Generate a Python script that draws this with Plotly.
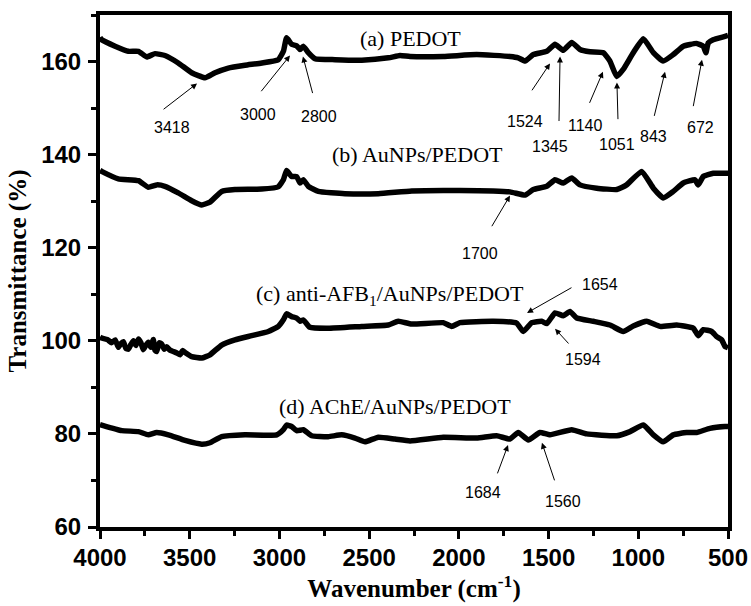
import plotly.graph_objects as go

# ---- data ----
wn_a = [4000, 3991, 3916, 3842, 3786, 3740, 3693, 3638, 3564, 3489, 3415, 3359, 3285, 3192, 3099, 3006,
        2978, 2960, 2932, 2904, 2885, 2867, 2839, 2802, 2690, 2541, 2393, 2328, 2272, 2087, 1901, 1715,
        1669, 1631, 1585, 1510, 1464, 1418, 1371, 1325, 1269, 1195, 1158, 1120, 1084, 1028, 972, 916,
        861, 805, 749, 675, 638, 623, 610, 583, 517, 500]
t_a = [165.2, 164.7, 163.3, 162.2, 162.2, 161.0, 161.7, 161.3, 159.7, 157.6, 156.5, 157.6, 158.6, 159.2, 159.7, 160.4,
       162.2, 165.1, 163.7, 163.4, 162.6, 163.3, 161.9, 160.6, 160.4, 160.3, 160.8, 161.3, 161.1, 161.1, 161.5, 161.1,
       160.8, 160.1, 161.5, 162.2, 163.7, 162.4, 164.1, 162.6, 162.1, 161.9, 160.1, 156.8, 158.3, 161.9, 164.9, 161.9,
       160.1, 161.5, 163.3, 163.9, 163.3, 161.9, 164.0, 164.7, 165.4, 165.6]

wn_b = [4000, 3991, 3898, 3786, 3731, 3684, 3638, 3564, 3489, 3433, 3387, 3322, 3248, 3099, 3006, 2978,
        2960, 2932, 2904, 2885, 2867, 2839, 2783, 2635, 2449, 2263, 1994, 1715, 1631, 1585, 1510, 1464,
        1418, 1371, 1325, 1232, 1120, 1065, 981, 916, 861, 805, 749, 684, 666, 638, 582, 517, 500]
t_b = [136.6, 136.4, 134.8, 134.4, 133.0, 133.5, 133.2, 131.8, 130.1, 129.2, 129.8, 132.1, 132.5, 132.6, 133.1, 134.6,
       136.6, 135.3, 135.3, 133.9, 134.6, 133.2, 132.1, 131.6, 131.6, 132.2, 132.3, 132.0, 131.3, 132.5, 133.2, 134.6,
       133.9, 135.0, 133.5, 132.8, 132.5, 133.5, 136.4, 132.8, 130.7, 132.1, 133.9, 134.6, 133.5, 135.3, 136.0, 136.0, 136.0]

wn_c = [4000, 3991, 3960, 3935, 3915, 3898, 3884, 3870, 3856, 3842, 3828, 3814, 3800, 3786, 3772, 3759,
        3745, 3731, 3717, 3703, 3694, 3684, 3670, 3656, 3642, 3628, 3610, 3591, 3572, 3554, 3540,
        3526, 3489, 3433, 3387, 3322, 3248, 3155, 3062, 3006, 2978, 2960, 2932, 2904, 2885, 2867, 2830,
        2728, 2541, 2393, 2338, 2263, 2087, 2040, 1994, 1808, 1678, 1641, 1594, 1538, 1510, 1464, 1418,
        1381, 1343, 1251, 1158, 1084, 1028, 953, 879, 786, 693, 666, 638, 591, 563, 535, 517, 500]
t_c = [100.8, 100.6, 100.3, 99.6, 100.2, 98.6, 99.4, 99.8, 98.4, 98.2, 99.2, 100.0, 99.0, 100.4, 99.6, 98.1,
       99.0, 99.7, 98.6, 100.3, 98.0, 97.7, 99.6, 99.3, 98.2, 98.7, 98.0, 97.7, 97.4, 97.0, 97.9,
       97.5, 96.6, 96.3, 97.0, 99.1, 100.2, 101.1, 102.0, 103.1, 104.5, 105.8, 105.2, 104.9, 104.2, 104.5, 102.9,
       102.7, 103.1, 103.4, 104.2, 103.6, 103.9, 103.1, 103.9, 104.2, 103.8, 102.0, 103.9, 104.2, 103.7, 106.0, 105.4,
       106.3, 104.9, 104.2, 103.4, 102.0, 103.2, 104.2, 103.1, 103.4, 102.7, 101.1, 102.4, 102.0, 100.9, 100.2, 98.8, 98.5]

wn_d = [4000, 3991, 3879, 3786, 3731, 3684, 3619, 3526, 3433, 3387, 3322, 3192, 3015, 2978, 2960, 2932,
        2904, 2867, 2820, 2728, 2653, 2579, 2523, 2449, 2356, 2272, 2087, 1901, 1789, 1715, 1669, 1613,
        1548, 1492, 1371, 1288, 1120, 1046, 972, 916, 861, 805, 731, 675, 601, 517, 500]
t_d = [82.0, 81.9, 80.7, 80.5, 79.8, 80.3, 79.8, 78.6, 77.8, 78.1, 79.4, 79.8, 79.8, 80.9, 81.9, 81.6,
       80.7, 80.9, 79.6, 79.4, 79.8, 79.1, 78.3, 79.3, 78.9, 78.5, 79.3, 79.1, 79.6, 78.9, 80.3, 78.7,
       80.3, 79.8, 80.9, 80.0, 79.6, 80.5, 81.9, 79.8, 78.3, 79.8, 80.3, 80.3, 81.2, 81.6, 81.6]

series_labels = ["(a) PEDOT", "(b) AuNPs/PEDOT", "(c) anti-AFB<sub>1</sub>/AuNPs/PEDOT", "(d) AChE/AuNPs/PEDOT"]
series_label_pos = [(2272, 165.0), (2228, 140.0), (2384, 109.8), (2356, 85.8)]

# peak labels: text, label position, arrow tail, arrow head
peak_text = ["3418", "3000", "2800", "1524", "1345", "1140", "1051", "843", "672",
             "1700", "1654", "1594", "1684", "1560"]
peak_label = [(3599, 145.8), (3119, 148.6), (2780, 148.2), (1631, 147.1), (1492, 141.7), (1297, 146.2),
              (1119, 142.1), (918, 143.9), (651, 145.8), (1882, 118.7), (1214, 112.0), (1308, 95.9),
              (1866, 67.5), (1420, 65.4)]
peak_tail = [(3654, 149.5), (3108, 153.3), (2813, 152.9), (1598, 153.5), (1442, 146.9), (1275, 150.8),
             (1113, 147.3), (913, 148.0), (695, 150.1), (1821, 124.3), (1364, 111.6), (1381, 99.1),
             (1788, 71.2), (1464, 69.7)]
peak_head = [(3459, 155.3), (2941, 161.3), (2869, 161.1), (1492, 159.6), (1436, 161.1), (1197, 157.8),
             (1119, 155.5), (851, 157.8), (645, 160.4), (1715, 131.2), (1620, 106.0), (1464, 102.6),
             (1726, 77.6), (1537, 78.1)]

x_ticks = [4000, 3500, 3000, 2500, 2000, 1500, 1000, 500]
y_ticks = [60, 80, 100, 120, 140, 160]

SERIF = "Liberation Serif, Times New Roman, serif"
SANS = "Liberation Sans, Arial, sans-serif"

fig = go.Figure()
for wx, ty in [(wn_a, t_a), (wn_b, t_b), (wn_c, t_c), (wn_d, t_d)]:
    fig.add_trace(go.Scatter(x=wx, y=ty, mode="lines",
                             line=dict(color="black", width=5.5, shape="spline", smoothing=0.4),
                             showlegend=False, hoverinfo="skip"))

annotations = []
for txt, (lx, ly) in zip(series_labels, series_label_pos):
    annotations.append(dict(x=lx, y=ly, xref="x", yref="y", text=txt, showarrow=False,
                            font=dict(family=SERIF, size=22, color="black")))
for txt, (lx, ly), (tx, ty), (hx, hy) in zip(peak_text, peak_label, peak_tail, peak_head):
    annotations.append(dict(x=lx, y=ly, xref="x", yref="y", text=txt, showarrow=False,
                            font=dict(family=SANS, size=16, color="black")))
    annotations.append(dict(x=hx, y=hy, ax=tx, ay=ty, xref="x", yref="y", axref="x", ayref="y",
                            text="", showarrow=True, arrowhead=2, arrowsize=1.2, arrowwidth=1,
                            arrowcolor="black"))

axis_font = dict(family=SANS, size=24, color="black", weight="bold")
title_font = dict(family=SERIF, size=25, color="black", weight="bold")
fig.update_layout(
    width=751, height=606,
    margin=dict(l=100, r=23, t=15, b=79),
    plot_bgcolor="white", paper_bgcolor="white",
    annotations=annotations,
    xaxis=dict(range=[4000, 500], tickvals=x_ticks, ticktext=[str(v) for v in x_ticks],
               automargin=False,
               showgrid=False, zeroline=False, showline=True, linecolor="black", linewidth=4,
               mirror=True, ticks="outside", ticklen=8, tickwidth=3, tickcolor="black",
               tickfont=axis_font, ticklabelstandoff=-2,
               minor=dict(dtick=250, tick0=500, ticks="outside", ticklen=5, tickwidth=3, tickcolor="black", showgrid=False),
               title=dict(text="Wavenumber (cm<sup>-1</sup>)", standoff=6, font=title_font)),
    yaxis=dict(range=[60, 170], tickvals=y_ticks, ticktext=[str(v) for v in y_ticks],
               automargin=False,
               showgrid=False, zeroline=False, showline=True, linecolor="black", linewidth=4,
               mirror=True, ticks="outside", ticklen=8, tickwidth=3, tickcolor="black",
               tickfont=axis_font, ticklabelstandoff=2,
               minor=dict(dtick=10, tick0=60, ticks="outside", ticklen=5, tickwidth=3, tickcolor="black", showgrid=False),
               title=dict(text="Transmittance (%)", standoff=8, font=title_font)),
)

fig.write_html("out.html")
